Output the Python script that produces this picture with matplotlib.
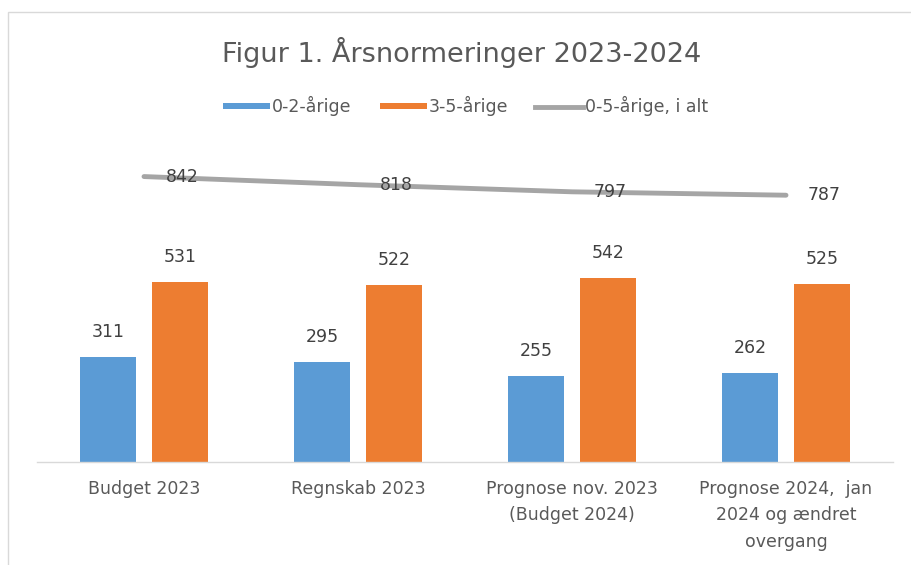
import matplotlib
matplotlib.use("Agg")
import matplotlib.pyplot as plt
from matplotlib.patches import Rectangle
from matplotlib.lines import Line2D
import numpy as np

categories = ["Budget 2023", "Regnskab 2023", "Prognose nov. 2023\n(Budget 2024)",
              "Prognose 2024,  jan\n2024 og ændret\novergang"]
s_02 = [311, 295, 255, 262]
s_35 = [531, 522, 542, 525]
s_tot = [842, 818, 797, 787]
series_names = ["0-2-årige", "3-5-årige", "0-5-årige, i alt"]
title = "Figur 1. Årsnormeringer 2023-2024"

BLUE = "#5B9BD5"
ORANGE = "#ED7D31"
GRAY = "#A5A5A5"
TXT = "#595959"
LBL = "#404040"

plt.rcParams['font.family'] = ['DejaVu Sans']
W, H = 912, 565
fig = plt.figure(figsize=(W / 100, H / 100), dpi=100)

def fx(px):
    return px / W

def fy(py):
    return 1 - py / H

# chart frame
fig.add_artist(Rectangle((fx(8), fy(600)), fx(1000), (600 - 12) / H, transform=fig.transFigure,
                         fill=False, edgecolor="#D9D9D9", linewidth=1.0))

ax_left, ax_right, ax_bottom, ymax = 37, 893, 462, 900
ax_top = ax_bottom - ymax * 0.339
ax = fig.add_axes([fx(ax_left), fy(ax_bottom), fx(ax_right - ax_left), (ax_bottom - ax_top) / H])
ax.set_xlim(-0.5, 3.5)
ax.set_ylim(0, ymax)

x = np.arange(len(categories))
bw = 0.262
off = 0.168
b1 = ax.bar(x - off, s_02, bw, color=BLUE)
b2 = ax.bar(x + off, s_35, bw, color=ORANGE)
ln, = ax.plot(x, s_tot, color=GRAY, linewidth=3.5, solid_capstyle='round')

for bars, vals in ((b1, s_02), (b2, s_35)):
    for r, v in zip(bars, vals):
        ax.annotate(str(v), (r.get_x() + r.get_width() / 2, v), xytext=(0, 25),
                    textcoords='offset pixels', ha='center', va='center',
                    fontsize=12.5, color=LBL)
for xi, v in zip(x, s_tot):
    ax.annotate(str(v), (xi, v), xytext=(38, 0), textcoords='offset pixels',
                ha='center', va='center', fontsize=12.5, color=LBL)

for s in ("top", "right", "left"):
    ax.spines[s].set_visible(False)
ax.spines["bottom"].set_color("#D9D9D9")
ax.spines["bottom"].set_linewidth(1.0)
ax.set_yticks([])
ax.set_xticks(x)
ax.set_xticklabels(categories, fontsize=12.5, color=TXT, linespacing=1.6)
ax.tick_params(axis='x', length=0, pad=13)

fig.text(fx(462), fy(52), title, ha='center', va='center', fontsize=19.5, color=TXT)

# legend
ly = 106
items = [(223, 270, 'patch', BLUE, series_names[0]),
         (380, 427, 'patch', ORANGE, series_names[1]),
         (535, 583, 'line', GRAY, series_names[2])]
for x0, x1, kind, col, name in items:
    if kind == 'patch':
        fig.add_artist(Rectangle((fx(x0), fy(ly + 3)), fx(x1 - x0), 6 / H,
                                 transform=fig.transFigure, color=col, linewidth=0))
    else:
        fig.add_artist(Line2D([fx(x0), fx(x1)], [fy(ly + 0.5), fy(ly + 0.5)],
                              transform=fig.transFigure, color=col, linewidth=3.5))
    fig.text(fx(x1 + 2), fy(ly), name, ha='left', va='center', fontsize=12.5, color=TXT)

fig.savefig("out.png", dpi=100)
